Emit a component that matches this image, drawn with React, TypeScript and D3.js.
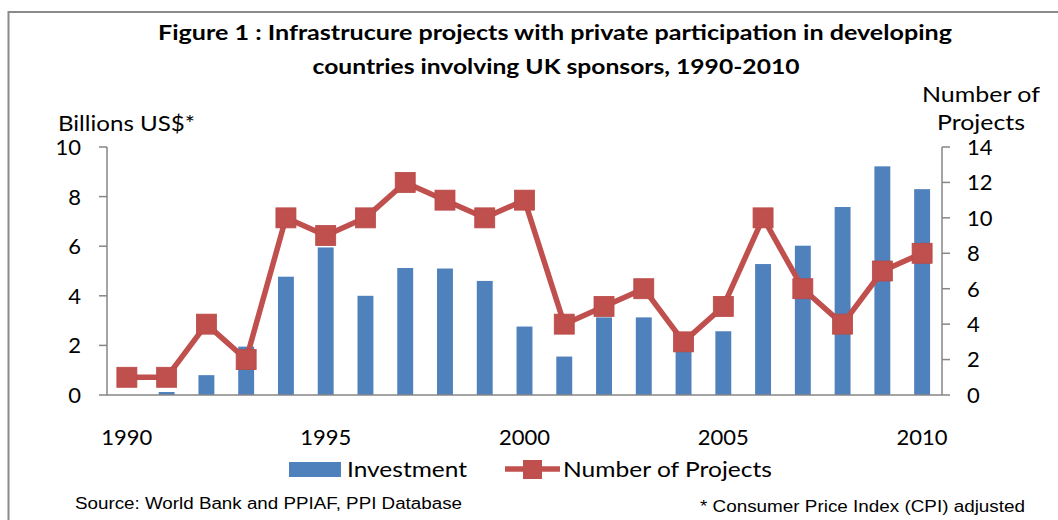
import React from "react";
import * as d3 from "d3";

const years: number[] = [1990,1991,1992,1993,1994,1995,1996,1997,1998,1999,2000,2001,2002,2003,2004,2005,2006,2007,2008,2009,2010];
const investment: number[] = [0,0.12,0.8,1.95,4.77,5.95,4.0,5.12,5.1,4.6,2.76,1.55,3.13,3.13,2.0,2.57,5.28,6.02,7.58,9.22,8.3];
const projects: number[] = [1,1,4,2,10,9,10,12,11,10,11,4,5,6,3,5,10,6,4,7,8];
const leftTicks: number[] = [0,2,4,6,8,10];
const rightTicks: number[] = [0,2,4,6,8,10,12,14];
const yearLabels: number[] = [1990,1995,2000,2005,2010];

const BLUE = "#4F81BD";
const RED = "#C0504D";
const AXIS = "#868686";
const FONT = "Lato, 'Liberation Sans', Arial, sans-serif";
const ARIAL = "'Liberation Sans', Arial, sans-serif";

export default function App() {
  const left = 107, right = 942, top = 147, bottom = 395;
  const x = d3.scaleBand<number>().domain(years).range([left, right]).paddingInner(0.6).paddingOuter(0.3);
  const yL = d3.scaleLinear().domain([0, 10]).range([bottom, top]);
  const yR = d3.scaleLinear().domain([0, 14]).range([bottom, top]);
  const cx = (yr: number) => (x(yr) as number) + x.bandwidth() / 2;
  const lineGen = d3.line<number>().x((_, i) => cx(years[i])).y((d) => yR(d));
  const ms = 20;

  return (
    <svg width={1058} height={520} style={{ position: "absolute", left: 0, top: 0, background: "#fff" }}>
      <rect x={0} y={0} width={1058} height={520} fill="#fff" />
      {/* frame */}
      <line x1={8} y1={12} x2={1058} y2={12} stroke="#8a8a8a" strokeWidth={2} />
      <line x1={8.5} y1={11} x2={8.5} y2={520} stroke="#8a8a8a" strokeWidth={2} />

      {/* title */}
      <text x={555} y={40} textAnchor="middle" fontFamily={FONT} fontWeight="bold" fontSize={21} textLength={794} lengthAdjust="spacingAndGlyphs" fill="#000">
        Figure 1 : Infrastrucure projects with private participation in developing
      </text>
      <text x={556} y={74} textAnchor="middle" fontFamily={FONT} fontWeight="bold" fontSize={21} textLength={487} lengthAdjust="spacingAndGlyphs" fill="#000">
        countries involving UK sponsors, 1990-2010
      </text>

      {/* axis titles */}
      <text x={58} y={131} fontFamily={FONT} fontSize={21} textLength={137} lengthAdjust="spacingAndGlyphs">Billions US$*</text>
      <text x={1040} y={102} textAnchor="end" fontFamily={FONT} fontSize={21} textLength={118} lengthAdjust="spacingAndGlyphs">Number of</text>
      <text x={981} y={130} textAnchor="middle" fontFamily={FONT} fontSize={21} textLength={88} lengthAdjust="spacingAndGlyphs">Projects</text>

      {/* bars */}
      {years.map((yr, i) => (
        <rect key={yr} x={x(yr)} y={yL(investment[i])} width={x.bandwidth()} height={bottom - yL(investment[i])} fill={BLUE} />
      ))}

      {/* axes */}
      <line x1={left} y1={bottom} x2={right} y2={bottom} stroke={AXIS} strokeWidth={1.5} />
      <line x1={left} y1={top} x2={left} y2={bottom} stroke={AXIS} strokeWidth={1.5} />
      <line x1={right} y1={top} x2={right} y2={bottom} stroke={AXIS} strokeWidth={1.5} />
      {leftTicks.map((t) => (
        <g key={"l" + t}>
          <line x1={left - 8} x2={left} y1={yL(t)} y2={yL(t)} stroke={AXIS} strokeWidth={1.5} />
          <text x={81} y={yL(t)} dy="0.36em" textAnchor="end" fontFamily={FONT} fontSize={22}>{t}</text>
        </g>
      ))}
      {rightTicks.map((t) => (
        <g key={"r" + t}>
          <line x1={right} x2={right + 8} y1={yR(t)} y2={yR(t)} stroke={AXIS} strokeWidth={1.5} />
          <text x={967} y={yR(t)} dy="0.36em" textAnchor="start" fontFamily={FONT} fontSize={22}>{t}</text>
        </g>
      ))}
      {yearLabels.map((yr) => (
        <text key={yr} x={cx(yr)} y={445} textAnchor="middle" fontFamily={FONT} fontSize={22}>{yr}</text>
      ))}

      {/* line */}
      <path d={lineGen(projects) || ""} fill="none" stroke={RED} strokeWidth={5.5} strokeLinejoin="round" />
      {projects.map((p, i) => (
        <rect key={"m" + i} x={cx(years[i]) - ms / 2} y={yR(p) - ms / 2} width={ms} height={ms} fill={RED} stroke="#b94a47" strokeWidth={0.8} />
      ))}

      {/* legend */}
      <rect x={289} y={462} width={52} height={15} fill={BLUE} />
      <text x={347} y={477} fontFamily={FONT} fontSize={22} textLength={120} lengthAdjust="spacingAndGlyphs">Investment</text>
      <line x1={505} x2={560} y1={469} y2={469} stroke={RED} strokeWidth={5.5} />
      <rect x={523} y={460} width={19} height={19} fill={RED} />
      <text x={563} y={477} fontFamily={FONT} fontSize={22} textLength={209} lengthAdjust="spacingAndGlyphs">Number of Projects</text>

      {/* notes */}
      <text x={75} y={509} fontFamily={ARIAL} fontSize={16} textLength={387} lengthAdjust="spacingAndGlyphs">Source: World Bank and PPIAF, PPI Database</text>
      <text x={700} y={512} fontFamily={ARIAL} fontSize={16} textLength={325} lengthAdjust="spacingAndGlyphs">* Consumer Price Index (CPI) adjusted</text>
    </svg>
  );
}
